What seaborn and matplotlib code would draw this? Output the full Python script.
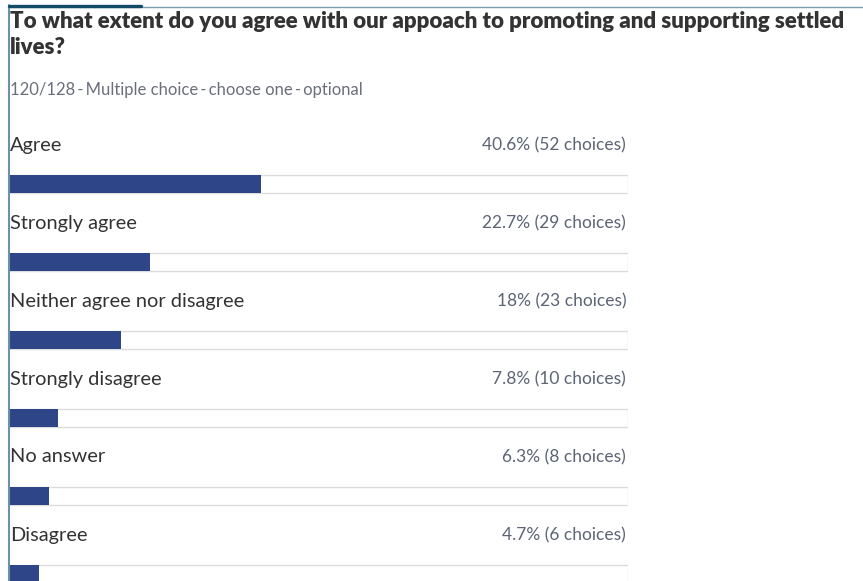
import matplotlib
matplotlib.use("Agg")
import matplotlib.pyplot as plt
import seaborn as sns
import pandas as pd
from matplotlib.lines import Line2D

# Survey responses
categories = ["Agree", "Strongly agree", "Neither agree nor disagree",
              "Strongly disagree", "No answer", "Disagree"]
percents = [40.6, 22.7, 18.0, 7.8, 6.3, 4.7]
percent_labels = ["40.6%", "22.7%", "18%", "7.8%", "6.3%", "4.7%"]
choices = [52, 29, 23, 10, 8, 6]
full_scale = [100, 100, 100, 100, 100, 100]

title = "To what extent do you agree with our appoach to promoting and supporting settled\nlives?"
subtitle = "120/128\u2009-\u2009Multiple choice\u2009-\u2009choose one\u2009-\u2009optional"

df = pd.DataFrame({"category": categories, "percent": percents, "full": full_scale})

W, H = 863, 581
sns.set_theme(style="white")
plt.rcParams["font.family"] = ["Lato", "DejaVu Sans"]

fig = plt.figure(figsize=(W / 100, H / 100), dpi=100)
fig.patch.set_facecolor("white")

# Axes spanning the bar tracks horizontally and the whole figure vertically
left_px, right_px = 10, 628
ax = fig.add_axes([left_px / W, 0, (right_px - left_px) / W, 1])
ax.set_facecolor("none")

bar_h = 18 / 78
# Background tracks
sns.barplot(data=df, y="category", x="full", orient="h", ax=ax, color="white",
            width=bar_h, edgecolor="#dcdcdc", linewidth=1.0, zorder=1)
# Filled portion
sns.barplot(data=df, y="category", x="percent", orient="h", ax=ax, color="#2e4687",
            saturation=1, width=bar_h, linewidth=0, zorder=2)

ax.set_xlim(0, 100)
row_px = 78
first_center = 184
ax.set_ylim((H - first_center) / row_px, -first_center / row_px)
ax.set_xlabel("")
ax.set_ylabel("")
ax.set_xticks([])
ax.set_yticks([])
for s in ax.spines.values():
    s.set_visible(False)

for i, (cat, pl, ch) in enumerate(zip(categories, percent_labels, choices)):
    ax.text(0, i - 0.5, cat, ha="left", va="center", fontsize=14.4, color="#333333")
    ax.text(99.7, i - 0.5, f"{pl} ({ch} choices)", ha="right", va="center",
            fontsize=12.5, color="#5d6475")

# Title and subtitle
fig.text(10 / W, 1 - 11 / H, title, ha="left", va="top", fontsize=16.0,
         fontweight="heavy", color="#333333", linespacing=1.28)
fig.text(10 / W, 1 - 90 / H, subtitle, ha="left", va="center", fontsize=12,
         color="#6b6f7a")

# Panel frame: left rule and top accent
fig.add_artist(Line2D([9 / W, 9 / W], [0, 1 - 5 / H], color="#6a93a8", lw=1.5))
fig.add_artist(Line2D([9 / W, 1], [1 - 7 / H, 1 - 7 / H], color="#7a9cb0", lw=1.0))
fig.add_artist(Line2D([9 / W, 141 / W], [1 - 5.5 / H, 1 - 5.5 / H], color="#124b68", lw=2.4))

fig.savefig("out.png", dpi=100, facecolor="white")
